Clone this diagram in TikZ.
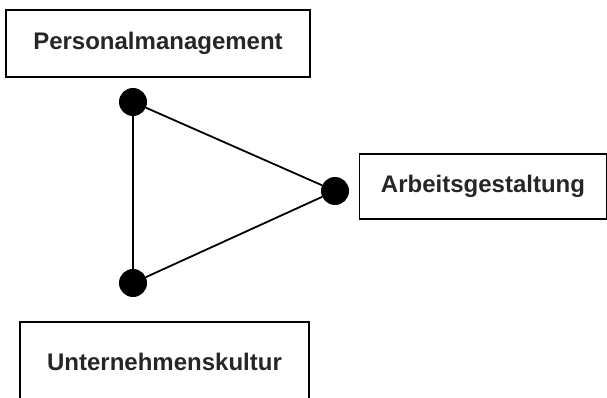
\documentclass[tikz,border=0pt]{standalone}
\usepackage{fontspec}
\setmainfont{Liberation Sans}
\usetikzlibrary{positioning}

\begin{document}
\begin{tikzpicture}[x=1pt,y=-1pt,
    feld/.style={draw,line width=1.3pt,inner sep=0pt,font=\fontsize{24}{28}\selectfont\bfseries,text=black!85},
    punkt/.style={circle,fill=black,inner sep=0pt,minimum size=28pt},
    kante/.style={line width=1.8pt}]
    \useasboundingbox (0,0) rectangle (607,398);

    \node[feld,minimum width=304pt,minimum height=67pt] (pm) at (158,43.5) {Personalmanagement};
    \node[feld,minimum width=247pt,minimum height=65pt] (ag) at (483,186.5) {Arbeitsgestaltung};
    \node[feld,minimum width=289pt,minimum height=80pt] (uk) at (164.5,362) {Unternehmenskultur};

    \node[punkt] (p1) at (133,102) {};
    \node[punkt] (p2) at (335,191) {};
    \node[punkt] (p3) at (133,283) {};

    \draw[kante] (p1) -- (p2);
    \draw[kante] (p2) -- (p3);
    \draw[kante] (p3) -- (p1);
\end{tikzpicture}
\end{document}
